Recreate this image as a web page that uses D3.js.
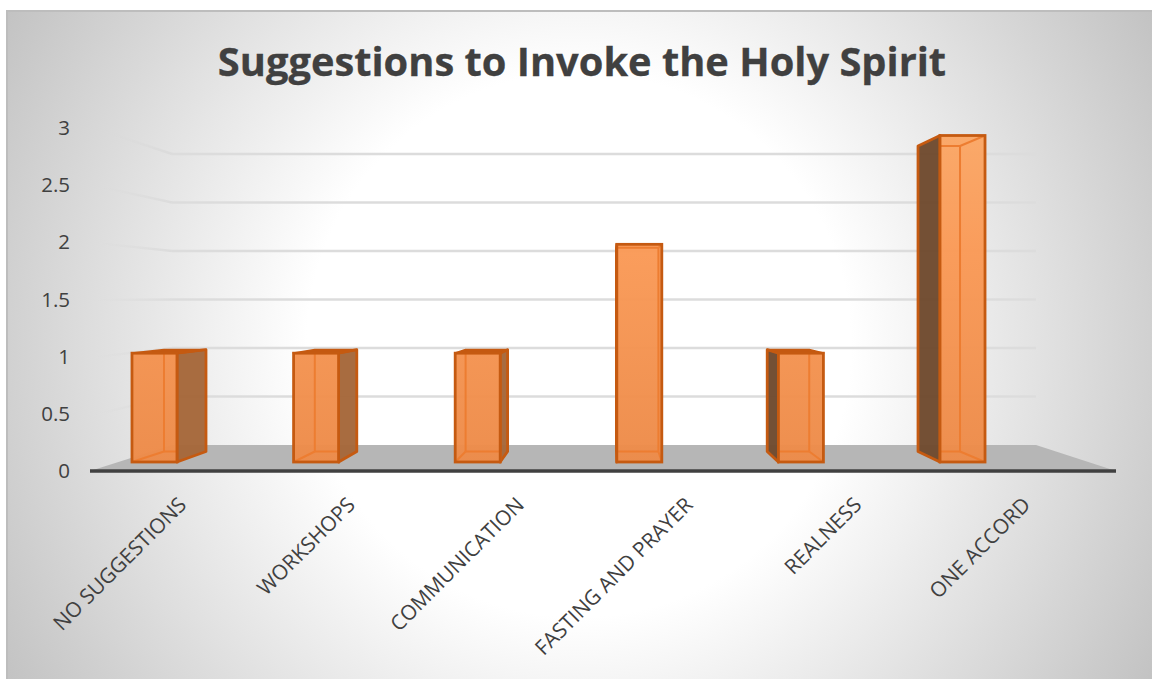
<!DOCTYPE html>
<html><head><meta charset="utf-8">
<script src="https://cdn.jsdelivr.net/npm/d3@7/dist/d3.min.js"></script>
<style>html,body{margin:0;padding:0;background:#fff;overflow:hidden}svg{display:block}
text{font-family:"Open Sans",sans-serif;fill:#404040}</style></head><body>
<svg id="c" width="1152" height="679"></svg>
<script>
const categories = ["NO SUGGESTIONS","WORKSHOPS","COMMUNICATION","FASTING AND PRAYER","REALNESS","ONE ACCORD"];
const values = [1,1,1,2,1,3];
const yTicks = [0,0.5,1,1.5,2,2.5,3];
const title = "Suggestions to Invoke the Holy Spirit";

const svg = d3.select("#c"), defs = svg.append("defs");
const bg = defs.append("radialGradient").attr("id","bg").attr("gradientUnits","userSpaceOnUse")
  .attr("cx",579).attr("cy",345).attr("r",680);
[[0,"#ffffff"],[0.4,"#ffffff"],[1,"#c0c0c0"]].forEach(s=>bg.append("stop").attr("offset",s[0]).attr("stop-color",s[1]));
const fg = defs.append("linearGradient").attr("id","front").attr("gradientUnits","userSpaceOnUse").attr("x1",0).attr("x2",0).attr("y1",135).attr("y2",462);
[[0,"#fba766"],[0.35,"#fa9a57"],[1,"#ed8b49"]].forEach(s=>fg.append("stop").attr("offset",s[0]).attr("stop-color",s[1]));
const wg = defs.append("linearGradient").attr("id","wall").attr("gradientUnits","userSpaceOnUse").attr("x1",95).attr("x2",172).attr("y1",0).attr("y2",0);
[[0,"#d9d9d9",0],[1,"#d9d9d9",0.8]].forEach(s=>wg.append("stop").attr("offset",s[0]).attr("stop-color",s[1]).attr("stop-opacity",s[2]));

svg.append("rect").attr("x",6).attr("y",10).attr("width",1146).attr("height",669).attr("fill","url(#bg)");
svg.append("path").attr("d","M7,679V11H1152").attr("fill","none").attr("stroke","#bdbdbd").attr("stroke-width",2);

svg.append("text").attr("x",582).attr("y",76).attr("text-anchor","middle")
  .attr("font-size",39.8).attr("font-weight",700).attr("stroke","#404040").attr("stroke-width",0.3).text(title);

// scales: tick labels plane, back wall, bar front plane, bar back plane
const yAxisS = d3.scaleLinear().domain([0,3]).range([471,128]);
const yWall  = d3.scaleLinear().domain([0,3]).range([445,154]);
const yFront = d3.scaleLinear().domain([0,3]).range([462,135.5]);
const yBack  = d3.scaleLinear().domain([0,3]).range([451.5,146]);
const xFront = d3.scaleBand().domain(categories).range([73.8,1043.2]).paddingInner(0.7215).paddingOuter(0.36);
const toBack = d3.scaleLinear().domain([177,985]).range([206,960]);
const xLabel = d3.scaleBand().domain(categories).range([90,1103]);

// floor
const floorX = {bl:172,br:1036,fl:90,fr:1116};
svg.append("polygon").attr("fill","#b6b6b6")
  .attr("points",[[floorX.bl,yWall(0)],[floorX.br,yWall(0)],[floorX.fr,yAxisS(0)],[floorX.fl,yAxisS(0)]].join(" "));

// gridlines
const grid = svg.append("g").attr("fill","none").attr("stroke-width",2.4);
yTicks.filter(d=>d>0).forEach(t=>{
  grid.append("line").attr("x1",172).attr("x2",1036).attr("y1",yWall(t)).attr("y2",yWall(t)).attr("stroke","#dcdcdc");
  grid.append("line").attr("x1",95).attr("x2",172).attr("y1",yAxisS(t)+0.5).attr("y2",yWall(t)+0.01).attr("stroke","url(#wall)");
});

// bars
const edge="#c55a11", inner="#ed7d31";
const bars = svg.selectAll("g.bar").data(categories.map((c,i)=>({c,v:values[i]}))).join("g").attr("class","bar");
bars.each(function(d){
  const g=d3.select(this);
  const fl=xFront(d.c), fr=fl+xFront.bandwidth(), bl=toBack(fl), br=toBack(fr);
  const ft=yFront(d.v), fb=yFront(0), bt=yBack(d.v), bb=yBack(0);
  const poly=(pts,fill,op,stroke,sw)=>g.append("polygon").attr("points",pts.join(" ")).attr("fill",fill).attr("fill-opacity",op)
    .attr("stroke",stroke).attr("stroke-width",sw).attr("stroke-linejoin","round");
  const line=(a,b,s,w)=>g.append("line").attr("x1",a[0]).attr("y1",a[1]).attr("x2",b[0]).attr("y2",b[1]).attr("stroke",s).attr("stroke-width",w);
  if(br>fr) poly([[fr,ft],[br,bt],[br,bb],[fr,fb]],"#a5673a",0.97,edge,2.8);
  if(bl<fl) poly([[fl,ft],[bl,bt],[bl,bb],[fl,fb]],"#704a2e",0.97,edge,2.8);
  if(bt<ft) poly([[fl,ft],[fr,ft],[br,bt],[bl,bt]],edge,1,edge,2);
  g.append("rect").attr("x",fl).attr("y",ft).attr("width",fr-fl).attr("height",fb-ft)
    .attr("fill","url(#front)").attr("fill-opacity",0.97);
  const ix0=Math.max(bl,fl), ix1=Math.min(br,fr);
  if(bl>fl) line([bl,Math.max(bt,ft)],[bl,bb],inner,2);
  if(br<fr) line([br,Math.max(bt,ft)],[br,bb],inner,2);
  line([ix0,bb],[ix1,bb],inner,2);
  line([fl,fb],[Math.max(bl,fl),bb],inner,2);
  line([fr,fb],[Math.min(br,fr),bb],inner,2);
  if(bt>ft){
    line([ix0,bt],[ix1,bt],inner,2);
    if(br<fr) line([fr,ft],[br,bt],inner,2);
    if(bl>fl) line([fl,ft],[bl,bt],inner,2);
  }
  g.append("rect").attr("x",fl).attr("y",ft).attr("width",fr-fl).attr("height",fb-ft)
    .attr("fill","none").attr("stroke",edge).attr("stroke-width",2.8);
});

// axis line
svg.append("line").attr("x1",90).attr("x2",1116).attr("y1",yAxisS(0)).attr("y2",yAxisS(0))
  .attr("stroke","#404040").attr("stroke-width",3.5);

// y axis
const ya = svg.append("g").attr("transform","translate(70,0)")
  .call(d3.axisLeft(yAxisS).tickValues(yTicks).tickSize(0).tickPadding(0).tickFormat(d=>String(d)));
ya.select(".domain").remove();
ya.selectAll("text").attr("font-size",20.5).attr("font-family",'"Open Sans",sans-serif').style("fill","#404040");

// x axis labels
const xa = svg.append("g").call(d3.axisBottom(xLabel).tickSize(0).tickPadding(0));
xa.select(".domain").remove();
xa.selectAll(".tick").attr("transform",d=>`translate(${xLabel(d)+xLabel.bandwidth()/2+8},501)`);
xa.selectAll("text").attr("y",0).attr("dy","0.35em").attr("text-anchor","end")
  .attr("transform","rotate(-45)").attr("font-size",20.8).attr("font-family",'"Open Sans",sans-serif').style("fill","#404040");
</script></body></html>
